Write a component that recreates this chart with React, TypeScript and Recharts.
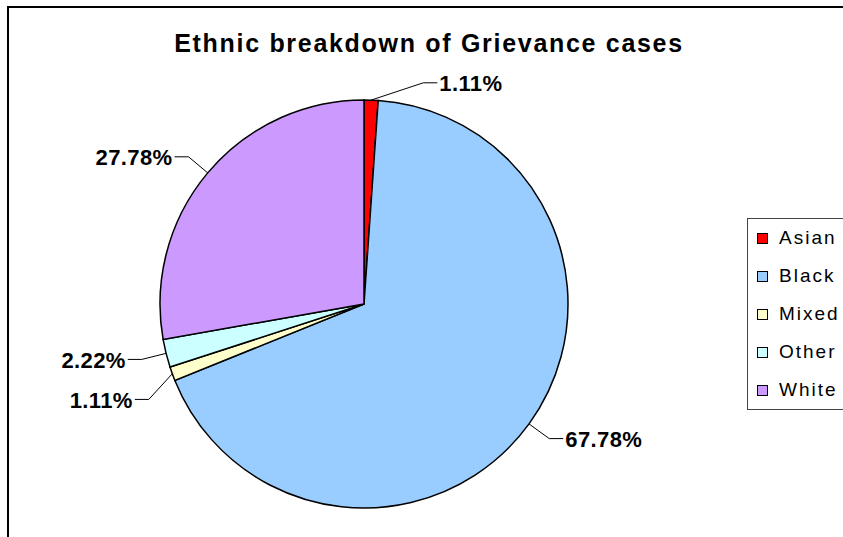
import { PieChart, Pie, Cell, Legend } from "recharts"

// Ethnic breakdown (percent of grievance cases)
const CATEGORIES = ["Asian", "Black", "Mixed", "Other", "White"]
const PERCENTAGES = [1.11, 67.78, 1.11, 2.22, 27.78]
const COLORS = ["#FF0000", "#99CCFF", "#FFFFCC", "#CCFFFF", "#CC99FF"]

const FONT = "'Liberation Sans', Arial, sans-serif"
const RAD = Math.PI / 180

const data = CATEGORIES.map((name, i) => ({ name, value: PERCENTAGES[i] }))

// Excel-like label placement: elbow just outside the pie, then a short horizontal tick
function layoutLabels(cx: number, cy: number, r: number) {
  const total = PERCENTAGES.reduce((s, v) => s + v, 0)
  let cum = 0
  const items = PERCENTAGES.map((v, i) => {
    const mid = 90 - ((cum + v / 2) / total) * 360
    cum += v
    const side = Math.cos(mid * RAD) >= 0 ? 1 : -1
    let a = mid
    // keep labels of slices near the top/bottom off the vertical axis
    if (Math.abs(Math.cos(a * RAD)) < 0.26) {
      const up = Math.sin(a * RAD) >= 0 ? 1 : -1
      a = Math.atan2(up * Math.sin(75 * RAD), side * Math.cos(75 * RAD)) / RAD
    }
    return {
      i,
      side,
      sx: cx + r * Math.cos(mid * RAD),
      sy: cy - r * Math.sin(mid * RAD),
      ex: cx + (r + 25) * Math.cos(a * RAD),
      ey: cy - (r + 25) * Math.sin(a * RAD),
    }
  })
  // push labels on the same side apart
  ;[-1, 1].forEach((side) => {
    const group = items.filter((it) => it.side === side).sort((p, q) => p.ey - q.ey)
    for (let k = 1; k < group.length; k++) {
      if (group[k].ey < group[k - 1].ey + 40) group[k].ey = group[k - 1].ey + 40
    }
  })
  return items
}

const renderLabel = (props: any) => {
  const { cx, cy, outerRadius, index } = props
  const it = layoutLabels(cx, cy, outerRadius)[index]
  const tx = it.ex + it.side * 14
  return (
    <g key={`lbl-${index}`}>
      <polyline
        points={`${it.sx},${it.sy} ${it.ex},${it.ey} ${tx},${it.ey}`}
        fill="none"
        stroke="#000"
        strokeWidth={1}
      />
      <text
        x={tx + it.side * 2}
        y={it.ey + 1}
        textAnchor={it.side > 0 ? "start" : "end"}
        dominantBaseline="central"
        fontFamily={FONT}
        fontWeight="bold"
        fontSize={22}
        letterSpacing={0.4}
        fill="#000"
      >
        {`${PERCENTAGES[index].toFixed(2)}%`}
      </text>
    </g>
  )
}

const LegendBox = ({ payload }: any) => (
  <div
    style={{
      border: "1px solid #444",
      background: "#fff",
      width: 120,
      fontFamily: FONT,
      fontSize: 19,
      letterSpacing: 2,
    }}
  >
    {(payload || []).map((entry: any, i: number) => (
      <div key={`leg-${i}`} style={{ height: 38, display: "flex", alignItems: "center", paddingLeft: 9 }}>
        <span
          style={{
            display: "inline-block",
            width: 9,
            height: 9,
            border: "1px solid #000",
            background: COLORS[i],
            marginRight: 11,
          }}
        />
        <span style={{ color: "#000" }}>{entry.value}</span>
      </div>
    ))}
  </div>
)

export default function App() {
  return (
    <div
      style={{
        position: "absolute",
        left: 0,
        top: 0,
        width: 843,
        height: 537,
        overflow: "hidden",
        background: "#fff",
      }}
    >
      <div
        style={{
          position: "absolute",
          left: 7,
          top: 6,
          width: 900,
          height: 600,
          borderTop: "2px solid #000",
          borderLeft: "2px solid #000",
        }}
      />
      <div
        style={{
          position: "absolute",
          left: 0,
          top: 31,
          width: 858,
          textAlign: "center",
          fontFamily: FONT,
          fontWeight: "bold",
          fontSize: 25,
          lineHeight: "25px",
          letterSpacing: 1.7,
          color: "#000",
          zIndex: 2,
        }}
      >
        Ethnic breakdown of Grievance cases
      </div>
      <PieChart width={843} height={537} margin={{ top: 0, right: 0, bottom: 0, left: 0 }}>
        <Pie
          data={data}
          dataKey="value"
          nameKey="name"
          cx={364}
          cy={304}
          outerRadius={204}
          startAngle={90}
          endAngle={-270}
          stroke="#000"
          strokeWidth={1.5}
          label={renderLabel}
          labelLine={false}
          isAnimationActive={false}
        >
          {data.map((entry, index) => (
            <Cell key={`cell-${index}`} fill={COLORS[index]} />
          ))}
        </Pie>
        <Legend
          layout="vertical"
          align="right"
          verticalAlign="middle"
          content={<LegendBox />}
          wrapperStyle={{ left: 747, top: 218, width: 120, right: "auto" }}
        />
      </PieChart>
    </div>
  )
}
